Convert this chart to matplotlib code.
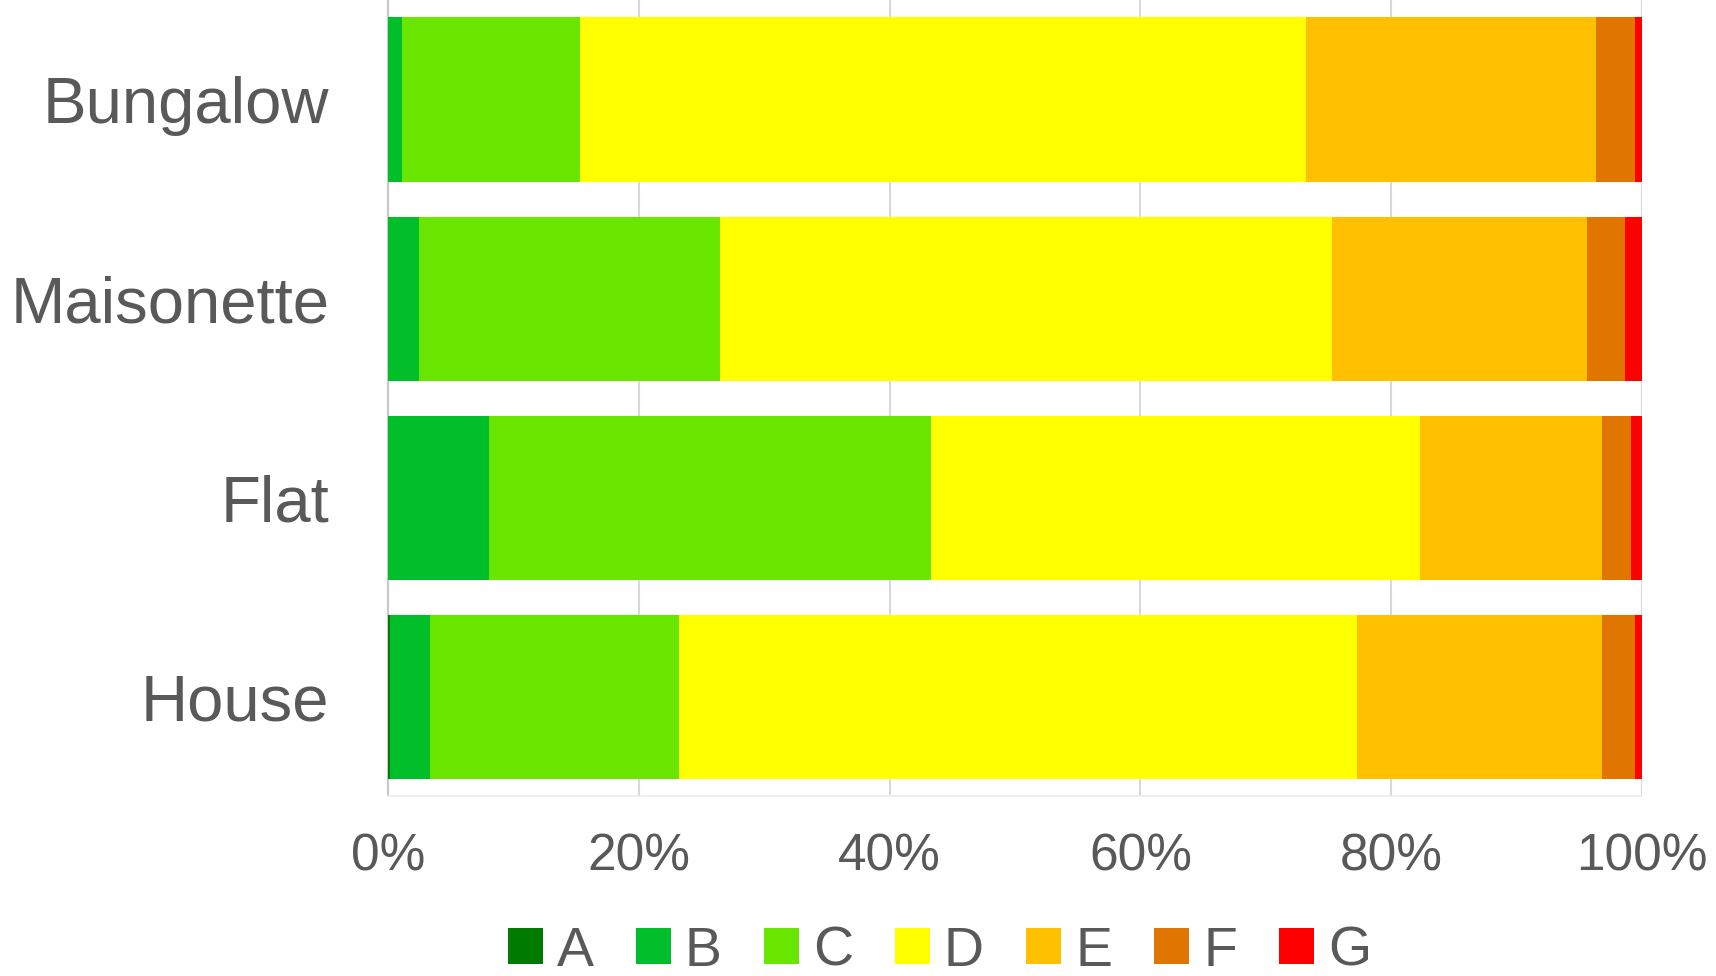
import numpy as np
import matplotlib.pyplot as plt
from matplotlib.ticker import PercentFormatter

# property types, top to bottom
types = ["Bungalow", "Maisonette", "Flat", "House"]

# EPC band shares (%) per property type
band_a = [0.0, 0.0, 0.0, 0.2]
band_b = [1.1, 2.5, 8.1, 3.2]
band_c = [14.2, 24.0, 35.2, 19.8]
band_d = [57.9, 48.8, 39.0, 54.1]
band_e = [23.1, 20.3, 14.5, 19.5]
band_f = [3.1, 3.0, 2.3, 2.6]
band_g = [0.6, 1.4, 0.9, 0.6]

bands = ["A", "B", "C", "D", "E", "F", "G"]
colours = ["#007A00", "#00BF2A", "#69E600", "#FFFF00", "#FFC000", "#E07600", "#FF0000"]

plt.rcParams['font.family'] = ['Liberation Sans', 'DejaVu Sans']
grey = "#595959"

fig = plt.figure(figsize=(17.16, 9.76), dpi=100)
ax = fig.add_axes([0.226, 0.184, 0.731, 0.816])

y = np.arange(len(types))
left = np.zeros(len(types))
for name, vals, col in zip(bands, [band_a, band_b, band_c, band_d, band_e, band_f, band_g], colours):
    ax.barh(y, vals, left=left, height=0.825, color=col, label=name, zorder=3)
    left += np.array(vals)

ax.set_xlim(0, 100)
ax.set_ylim(len(types) - 0.5, -0.5)
ax.set_yticks(y)
ax.set_yticklabels(types)
ax.set_xticks(np.arange(0, 101, 20))
ax.xaxis.set_major_formatter(PercentFormatter(decimals=0))
ax.tick_params(axis='y', length=0, pad=42, labelsize=47, labelcolor=grey)
ax.tick_params(axis='x', length=0, pad=26, labelsize=37, labelcolor=grey)

ax.grid(axis='x', color="#D9D9D9", linewidth=1.5, zorder=0)
for s in ["top", "right"]:
    ax.spines[s].set_visible(False)
ax.spines["left"].set_color("#C8C8C8")
ax.spines["left"].set_linewidth(1.5)
ax.spines["bottom"].set_color("#EEEEEE")
ax.spines["bottom"].set_linewidth(1.2)

fig.legend(loc="center", bbox_to_anchor=(0.5475, 0.025), ncol=7, frameon=False,
           fontsize=40, labelcolor=grey, handlelength=0.63, handleheight=0.63,
           handletextpad=0.25, columnspacing=0.76, borderaxespad=0, borderpad=0)

fig.savefig("out.png", dpi=100)
